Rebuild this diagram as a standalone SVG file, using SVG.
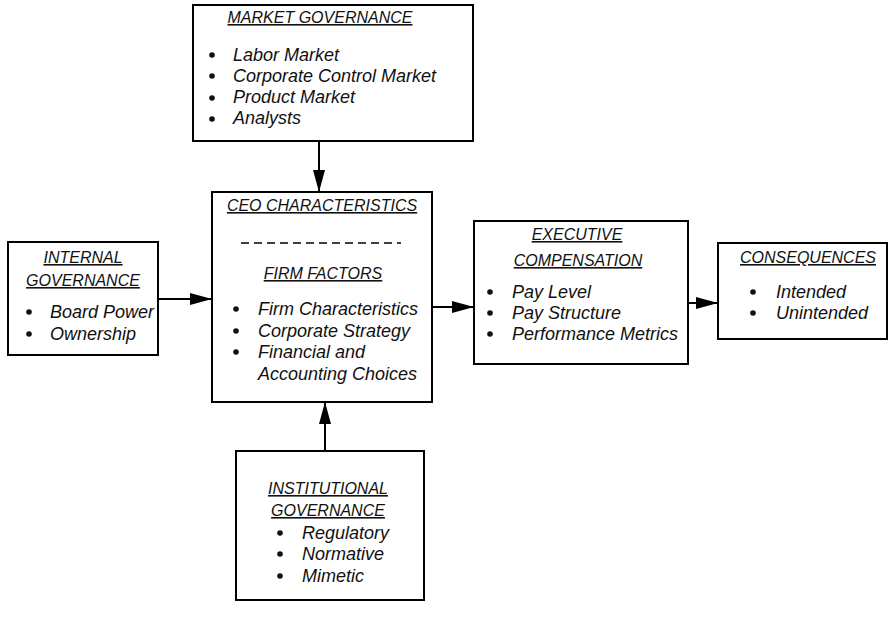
<svg xmlns="http://www.w3.org/2000/svg" width="891" height="618" viewBox="0 0 891 618">
  <style>
    .box { fill: #ffffff; stroke: #000000; stroke-width: 2; }
    .t { font-family: "Liberation Sans", Arial, sans-serif; font-style: italic; font-size: 18px; fill: #111111; }
    .h { font-size: 16px; text-anchor: middle; text-decoration: underline; }
    .dot { fill: #111111; }
    .link { stroke: #000000; stroke-width: 2; fill: none; marker-end: url(#head); }
    .sep { stroke: #000000; stroke-width: 1.5; stroke-dasharray: 8 5; }
  </style>
  <defs>
    <marker id="head" viewBox="0 0 22 12" refX="22" refY="6" markerWidth="22" markerHeight="12" markerUnits="userSpaceOnUse" orient="auto">
      <path d="M0,0 L22,6 L0,12 Z" fill="#000000"/>
    </marker>
  </defs>

  <rect width="891" height="618" fill="#ffffff"/>

  <g id="connectors">
    <line class="link" x1="319" y1="141" x2="319" y2="192"/>
    <line class="link" x1="158" y1="299" x2="212" y2="299"/>
    <line class="link" x1="325" y1="451" x2="325" y2="402"/>
    <line class="link" x1="432" y1="307" x2="474" y2="307"/>
    <line class="link" x1="688" y1="303" x2="718" y2="303"/>
  </g>

  <g id="market-governance">
    <rect class="box" x="193" y="5" width="280" height="136"/>
    <text class="t h" x="320" y="23">MARKET GOVERNANCE</text>
    <circle class="dot" cx="212" cy="55" r="2.8"/>
    <circle class="dot" cx="212" cy="76" r="2.8"/>
    <circle class="dot" cx="212" cy="98" r="2.8"/>
    <circle class="dot" cx="212" cy="119" r="2.8"/>
    <text class="t" x="233" y="61">Labor Market</text>
    <text class="t" x="233" y="82">Corporate Control Market</text>
    <text class="t" x="233" y="103">Product Market</text>
    <text class="t" x="233" y="124">Analysts</text>
  </g>

  <g id="internal-governance">
    <rect class="box" x="8" y="242" width="150" height="113"/>
    <text class="t h" x="83" y="263">INTERNAL</text>
    <text class="t h" x="83" y="286">GOVERNANCE</text>
    <circle class="dot" cx="29" cy="312" r="2.8"/>
    <circle class="dot" cx="29" cy="334" r="2.8"/>
    <text class="t" x="50" y="318">Board Power</text>
    <text class="t" x="50" y="340">Ownership</text>
  </g>

  <g id="ceo-firm">
    <rect class="box" x="212" y="192" width="220" height="210"/>
    <text class="t h" x="322" y="211">CEO CHARACTERISTICS</text>
    <line class="sep" x1="241" y1="243" x2="401" y2="243"/>
    <text class="t h" x="323" y="279">FIRM FACTORS</text>
    <circle class="dot" cx="236" cy="309" r="2.8"/>
    <circle class="dot" cx="236" cy="331" r="2.8"/>
    <circle class="dot" cx="236" cy="352" r="2.8"/>
    <text class="t" x="258" y="315">Firm Characteristics</text>
    <text class="t" x="258" y="337">Corporate Strategy</text>
    <text class="t" x="258" y="358">Financial and</text>
    <text class="t" x="258" y="380">Accounting Choices</text>
  </g>

  <g id="executive-compensation">
    <rect class="box" x="474" y="221" width="214" height="143"/>
    <text class="t h" x="577" y="240">EXECUTIVE</text>
    <text class="t h" x="578" y="266">COMPENSATION</text>
    <circle class="dot" cx="490" cy="292" r="2.8"/>
    <circle class="dot" cx="490" cy="313" r="2.8"/>
    <circle class="dot" cx="490" cy="334" r="2.8"/>
    <text class="t" x="512" y="298">Pay Level</text>
    <text class="t" x="512" y="319">Pay Structure</text>
    <text class="t" x="512" y="340">Performance Metrics</text>
  </g>

  <g id="consequences">
    <rect class="box" x="718" y="243" width="169" height="96"/>
    <text class="t h" x="808" y="263">CONSEQUENCES</text>
    <circle class="dot" cx="753" cy="292" r="2.8"/>
    <circle class="dot" cx="753" cy="313" r="2.8"/>
    <text class="t" x="776" y="298">Intended</text>
    <text class="t" x="776" y="319">Unintended</text>
  </g>

  <g id="institutional-governance">
    <rect class="box" x="236" y="451" width="188" height="149"/>
    <text class="t h" x="328" y="494">INSTITUTIONAL</text>
    <text class="t h" x="328" y="516">GOVERNANCE</text>
    <circle class="dot" cx="280" cy="533" r="2.8"/>
    <circle class="dot" cx="280" cy="554" r="2.8"/>
    <circle class="dot" cx="280" cy="576" r="2.8"/>
    <text class="t" x="302" y="539">Regulatory</text>
    <text class="t" x="302" y="560">Normative</text>
    <text class="t" x="302" y="582">Mimetic</text>
  </g>
</svg>
